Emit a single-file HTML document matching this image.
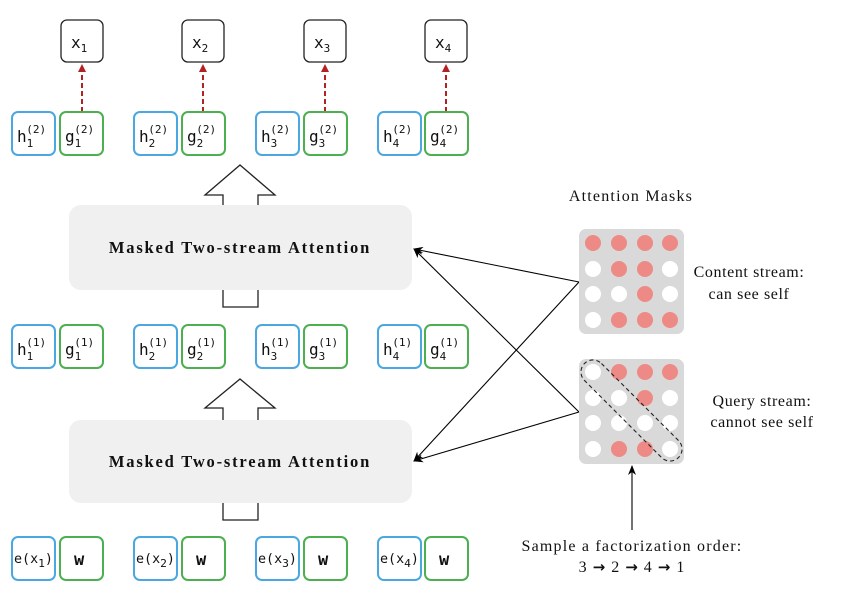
<!DOCTYPE html>
<html><head><meta charset="utf-8"><style>
html,body{margin:0;padding:0;background:#fff}
svg{display:block}
.s{font-family:"DejaVu Sans Mono","Liberation Mono",monospace;font-size:16px;fill:#111}
.sub{font-size:11px}
.r{font-family:"Liberation Serif",serif;fill:#111}
</style></head><body>
<svg width="864" height="590" viewBox="0 0 864 590" xmlns="http://www.w3.org/2000/svg">
<defs>
<marker id="ah" markerWidth="10" markerHeight="8" refX="9" refY="4" orient="auto" markerUnits="userSpaceOnUse"><path d="M0,0 L10,4 L0,8 L3,4 Z" fill="#000"/></marker>
<marker id="rh" markerWidth="8" markerHeight="8" refX="7" refY="4" orient="auto" markerUnits="userSpaceOnUse"><path d="M0,0 L8,4 L0,8 Z" fill="#b22222"/></marker>
</defs>
<g fill="#fff" stroke="#222" stroke-width="1.3">
<rect x="61" y="20" width="42" height="42" rx="6"/><rect x="182" y="20" width="42" height="42" rx="6"/>
<rect x="304" y="20" width="42" height="42" rx="6"/><rect x="425" y="20" width="42" height="42" rx="6"/>
</g>
<g class="s">
<text x="71" y="48">x<tspan class="sub" dy="4">1</tspan></text>
<text x="192" y="48">x<tspan class="sub" dy="4">2</tspan></text>
<text x="314" y="48">x<tspan class="sub" dy="4">3</tspan></text>
<text x="435" y="48">x<tspan class="sub" dy="4">4</tspan></text>
</g>
<g stroke="#b22222" stroke-width="2" stroke-dasharray="5,3">
<line x1="82" y1="112" x2="82" y2="65" marker-end="url(#rh)"/>
<line x1="203" y1="112" x2="203" y2="65" marker-end="url(#rh)"/>
<line x1="325" y1="112" x2="325" y2="65" marker-end="url(#rh)"/>
<line x1="446" y1="112" x2="446" y2="65" marker-end="url(#rh)"/>
</g>
<g fill="#fff" stroke-width="2">
<g stroke="#4aa8e0">
<rect x="12" y="112" width="43" height="43" rx="6"/><rect x="134" y="112" width="43" height="43" rx="6"/><rect x="256" y="112" width="43" height="43" rx="6"/><rect x="378" y="112" width="43" height="43" rx="6"/>
<rect x="12" y="325" width="43" height="43" rx="6"/><rect x="134" y="325" width="43" height="43" rx="6"/><rect x="256" y="325" width="43" height="43" rx="6"/><rect x="378" y="325" width="43" height="43" rx="6"/>
<rect x="12" y="537" width="43" height="43" rx="6"/><rect x="134" y="537" width="43" height="43" rx="6"/><rect x="256" y="537" width="43" height="43" rx="6"/><rect x="378" y="537" width="43" height="43" rx="6"/>
</g>
<g stroke="#4caf50">
<rect x="60" y="112" width="43" height="43" rx="6"/><rect x="182" y="112" width="43" height="43" rx="6"/><rect x="304" y="112" width="43" height="43" rx="6"/><rect x="425" y="112" width="43" height="43" rx="6"/>
<rect x="60" y="325" width="43" height="43" rx="6"/><rect x="182" y="325" width="43" height="43" rx="6"/><rect x="304" y="325" width="43" height="43" rx="6"/><rect x="425" y="325" width="43" height="43" rx="6"/>
<rect x="60" y="537" width="43" height="43" rx="6"/><rect x="182" y="537" width="43" height="43" rx="6"/><rect x="304" y="537" width="43" height="43" rx="6"/><rect x="425" y="537" width="43" height="43" rx="6"/>
</g>
</g>
<g class="s">
<text x="17" y="142">h<tspan class="sub" dy="5">1</tspan><tspan class="sub" dx="-7" dy="-14">(2)</tspan></text>
<text x="65" y="142">g<tspan class="sub" dy="5">1</tspan><tspan class="sub" dx="-7" dy="-14">(2)</tspan></text>
<text x="139" y="142">h<tspan class="sub" dy="5">2</tspan><tspan class="sub" dx="-7" dy="-14">(2)</tspan></text>
<text x="187" y="142">g<tspan class="sub" dy="5">2</tspan><tspan class="sub" dx="-7" dy="-14">(2)</tspan></text>
<text x="261" y="142">h<tspan class="sub" dy="5">3</tspan><tspan class="sub" dx="-7" dy="-14">(2)</tspan></text>
<text x="309" y="142">g<tspan class="sub" dy="5">3</tspan><tspan class="sub" dx="-7" dy="-14">(2)</tspan></text>
<text x="383" y="142">h<tspan class="sub" dy="5">4</tspan><tspan class="sub" dx="-7" dy="-14">(2)</tspan></text>
<text x="430" y="142">g<tspan class="sub" dy="5">4</tspan><tspan class="sub" dx="-7" dy="-14">(2)</tspan></text>
<text x="17" y="355">h<tspan class="sub" dy="5">1</tspan><tspan class="sub" dx="-7" dy="-14">(1)</tspan></text>
<text x="65" y="355">g<tspan class="sub" dy="5">1</tspan><tspan class="sub" dx="-7" dy="-14">(1)</tspan></text>
<text x="139" y="355">h<tspan class="sub" dy="5">2</tspan><tspan class="sub" dx="-7" dy="-14">(1)</tspan></text>
<text x="187" y="355">g<tspan class="sub" dy="5">2</tspan><tspan class="sub" dx="-7" dy="-14">(1)</tspan></text>
<text x="261" y="355">h<tspan class="sub" dy="5">3</tspan><tspan class="sub" dx="-7" dy="-14">(1)</tspan></text>
<text x="309" y="355">g<tspan class="sub" dy="5">3</tspan><tspan class="sub" dx="-7" dy="-14">(1)</tspan></text>
<text x="383" y="355">h<tspan class="sub" dy="5">4</tspan><tspan class="sub" dx="-7" dy="-14">(1)</tspan></text>
<text x="430" y="355">g<tspan class="sub" dy="5">4</tspan><tspan class="sub" dx="-7" dy="-14">(1)</tspan></text>
<g font-size="13">
<text x="14" y="563" textLength="39" lengthAdjust="spacingAndGlyphs">e(x<tspan class="sub" dy="4">1</tspan><tspan dy="-4">)</tspan></text>
<text x="136" y="563" textLength="39" lengthAdjust="spacingAndGlyphs">e(x<tspan class="sub" dy="4">2</tspan><tspan dy="-4">)</tspan></text>
<text x="258" y="563" textLength="39" lengthAdjust="spacingAndGlyphs">e(x<tspan class="sub" dy="4">3</tspan><tspan dy="-4">)</tspan></text>
<text x="380" y="563" textLength="39" lengthAdjust="spacingAndGlyphs">e(x<tspan class="sub" dy="4">4</tspan><tspan dy="-4">)</tspan></text>
</g>
<text x="74" y="565" font-size="17" font-weight="bold">w</text>
<text x="196" y="565" font-size="17" font-weight="bold">w</text>
<text x="318" y="565" font-size="17" font-weight="bold">w</text>
<text x="439" y="565" font-size="17" font-weight="bold">w</text>
</g>
<g fill="#fff" stroke="#222" stroke-width="1.3">
<path d="M223,307 L223,195 L205,195 L240,165 L275,195 L258,195 L258,307 Z"/>
<path d="M223,520 L223,408 L205,408 L240,379 L275,408 L258,408 L258,520 Z"/>
</g>
<rect x="69" y="205" width="343" height="85" rx="12" fill="#f0f0f0"/>
<rect x="69" y="420" width="343" height="83" rx="12" fill="#f0f0f0"/>
<text class="r" x="240" y="253" text-anchor="middle" font-size="16.5" font-weight="bold" letter-spacing="1.8">Masked Two-stream Attention</text>
<text class="r" x="240" y="467" text-anchor="middle" font-size="16.5" font-weight="bold" letter-spacing="1.8">Masked Two-stream Attention</text>
<g stroke="#000" stroke-width="1.1" fill="none">
<line x1="579" y1="282" x2="414" y2="249" marker-end="url(#ah)"/>
<line x1="579" y1="282" x2="414" y2="461" marker-end="url(#ah)"/>
<line x1="579" y1="412" x2="414" y2="249" marker-end="url(#ah)"/>
<line x1="579" y1="412" x2="414" y2="461" marker-end="url(#ah)"/>
<line x1="632" y1="530" x2="632" y2="466" marker-end="url(#ah)"/>
</g>
<rect x="579" y="229" width="105" height="105" rx="7" fill="#d9d9d9"/>
<rect x="579" y="359" width="105" height="105" rx="7" fill="#d9d9d9"/>
<g>
<circle cx="593" cy="243" r="8" fill="#ee8a86"/><circle cx="619" cy="243" r="8" fill="#ee8a86"/><circle cx="645" cy="243" r="8" fill="#ee8a86"/><circle cx="670" cy="243" r="8" fill="#ee8a86"/>
<circle cx="593" cy="269" r="8" fill="#fff"/><circle cx="619" cy="269" r="8" fill="#ee8a86"/><circle cx="645" cy="269" r="8" fill="#ee8a86"/><circle cx="670" cy="269" r="8" fill="#fff"/>
<circle cx="593" cy="294" r="8" fill="#fff"/><circle cx="619" cy="294" r="8" fill="#fff"/><circle cx="645" cy="294" r="8" fill="#ee8a86"/><circle cx="670" cy="294" r="8" fill="#fff"/>
<circle cx="593" cy="320" r="8" fill="#fff"/><circle cx="619" cy="320" r="8" fill="#ee8a86"/><circle cx="645" cy="320" r="8" fill="#ee8a86"/><circle cx="670" cy="320" r="8" fill="#ee8a86"/>
<circle cx="593" cy="372" r="8" fill="#fff"/><circle cx="619" cy="372" r="8" fill="#ee8a86"/><circle cx="645" cy="372" r="8" fill="#ee8a86"/><circle cx="670" cy="372" r="8" fill="#ee8a86"/>
<circle cx="593" cy="398" r="8" fill="#fff"/><circle cx="619" cy="398" r="8" fill="#fff"/><circle cx="645" cy="398" r="8" fill="#ee8a86"/><circle cx="670" cy="398" r="8" fill="#fff"/>
<circle cx="593" cy="423" r="8" fill="#fff"/><circle cx="619" cy="423" r="8" fill="#fff"/><circle cx="645" cy="423" r="8" fill="#fff"/><circle cx="670" cy="423" r="8" fill="#fff"/>
<circle cx="593" cy="449" r="8" fill="#fff"/><circle cx="619" cy="449" r="8" fill="#ee8a86"/><circle cx="645" cy="449" r="8" fill="#ee8a86"/><circle cx="670" cy="449" r="8" fill="#fff"/>
</g>
<rect x="565" y="398.5" width="133" height="24" rx="12" transform="rotate(45 631.5 410.5)" fill="none" stroke="#222" stroke-width="1.1" stroke-dasharray="4,3"/>
<g class="r" font-size="16" text-anchor="middle" letter-spacing="0.6">
<text x="631" y="201" letter-spacing="1.2">Attention Masks</text>
<text x="749" y="277">Content stream:</text>
<text x="749" y="299">can see self</text>
<text x="762" y="406">Query stream:</text>
<text x="762" y="427">cannot see self</text>
<text x="632" y="551" letter-spacing="1.2">Sample a factorization order:</text>
<text x="632" y="572" letter-spacing="1">3 <tspan font-family="DejaVu Sans" font-weight="bold" font-size="15">→</tspan> 2 <tspan font-family="DejaVu Sans" font-weight="bold" font-size="15">→</tspan> 4 <tspan font-family="DejaVu Sans" font-weight="bold" font-size="15">→</tspan> 1</text>
</g>
</svg>
</body></html>
